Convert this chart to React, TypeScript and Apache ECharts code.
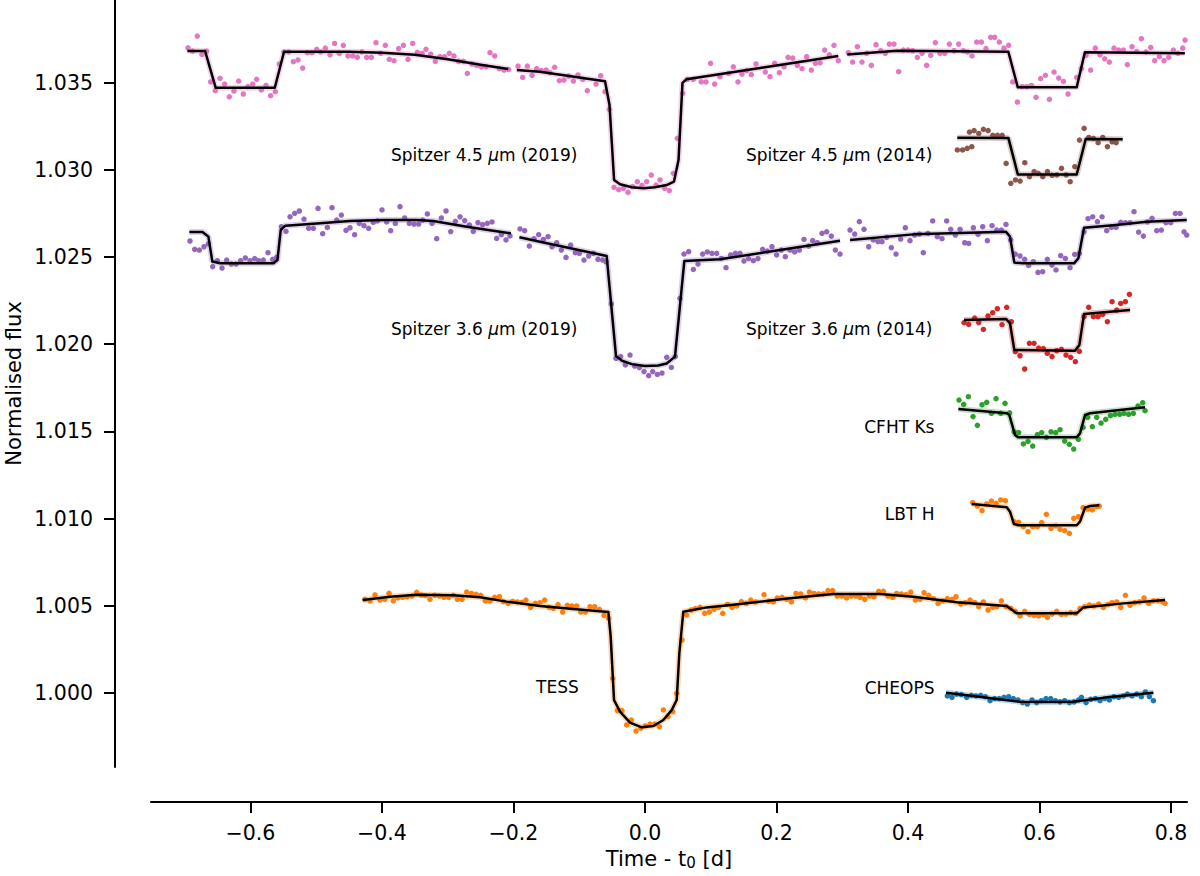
import React, { useEffect, useRef } from "react";
import * as echarts from "echarts";

// ---------- axis extents & ticks ----------
const xMin = -0.7513;
const xMax = 0.8243;
const yMin = 0.995757;
const yMax = 1.03974;
const xTicks = [-0.6, -0.4, -0.2, 0.0, 0.2, 0.4, 0.6, 0.8];
const yTicks = [1.0, 1.005, 1.01, 1.015, 1.02, 1.025, 1.03, 1.035];

// ---------- Spitzer 4.5 um (2019) ----------
const pinkDots = [
  [-0.6951, 1.037], [-0.688, 1.03681], [-0.6809, 1.03767], [-0.6738, 1.03662], [-0.6667, 1.03681], [-0.6606, 1.03504],
  [-0.6535, 1.03454], [-0.6464, 1.03525], [-0.6393, 1.03492], [-0.6322, 1.03419], [-0.6251, 1.03452], [-0.618, 1.03509],
  [-0.6109, 1.03435], [-0.6038, 1.03477], [-0.5967, 1.03492], [-0.5906, 1.03519], [-0.5835, 1.03458], [-0.5764, 1.03484],
  [-0.5693, 1.03425], [-0.5622, 1.03448], [-0.5561, 1.03607], [-0.549, 1.03676], [-0.5419, 1.03676], [-0.5348, 1.0362],
  [-0.5277, 1.0363], [-0.5206, 1.03584], [-0.5135, 1.03672], [-0.5064, 1.03672], [-0.4993, 1.03691], [-0.4933, 1.03676],
  [-0.4862, 1.03698], [-0.4791, 1.0366], [-0.472, 1.03725], [-0.4649, 1.03668], [-0.4588, 1.03714], [-0.4517, 1.03653],
  [-0.4446, 1.03653], [-0.4375, 1.03645], [-0.4304, 1.03677], [-0.4233, 1.03645], [-0.4162, 1.03645], [-0.4091, 1.03729],
  [-0.402, 1.03668], [-0.3949, 1.03714], [-0.3888, 1.03634], [-0.3817, 1.03626], [-0.3746, 1.03695], [-0.3675, 1.03714],
  [-0.3604, 1.03634], [-0.3533, 1.03725], [-0.3462, 1.03674], [-0.3391, 1.03668], [-0.3331, 1.03691], [-0.326, 1.03664],
  [-0.3189, 1.03622], [-0.3118, 1.03649], [-0.3047, 1.03649], [-0.2976, 1.03668], [-0.2905, 1.03653], [-0.2834, 1.03622],
  [-0.2763, 1.03622], [-0.2702, 1.03553], [-0.2631, 1.03607], [-0.256, 1.03599], [-0.2489, 1.03591], [-0.2418, 1.03591],
  [-0.2357, 1.03672], [-0.2286, 1.03653], [-0.2215, 1.0358], [-0.2144, 1.03572], [-0.2073, 1.03576], [-0.1931, 1.03595],
  [-0.186, 1.0353], [-0.1789, 1.03595], [-0.1718, 1.03542], [-0.1647, 1.0358], [-0.1576, 1.03569], [-0.1505, 1.03572],
  [-0.1445, 1.03557], [-0.1374, 1.03588], [-0.1303, 1.03511], [-0.1232, 1.03515], [-0.1161, 1.03538], [-0.109, 1.03509],
  [-0.1019, 1.03544], [-0.0948, 1.03519], [-0.0877, 1.03454], [-0.0745, 1.03492], [-0.0674, 1.0354], [-0.0608, 1.03448],
  [-0.0542, 1.03347], [-0.0471, 1.029], [-0.04, 1.02886], [-0.0329, 1.02894], [-0.0258, 1.02871], [-0.0187, 1.02904],
  [-0.0117, 1.02932], [-0.0046, 1.02911], [0.0025, 1.02932], [0.0096, 1.0297], [0.0167, 1.02913], [0.0228, 1.02942],
  [0.0299, 1.02894], [0.037, 1.02881], [0.0431, 1.0298], [0.0492, 1.03181], [0.0573, 1.03439], [0.0644, 1.03519],
  [0.0735, 1.03519], [0.0856, 1.03504], [0.0927, 1.03504], [0.0998, 1.03611], [0.1059, 1.03492], [0.114, 1.03534],
  [0.1272, 1.03553], [0.1343, 1.03591], [0.1414, 1.03504], [0.1475, 1.03549], [0.1546, 1.03569], [0.1617, 1.03546],
  [0.1688, 1.03607], [0.183, 1.03561], [0.1901, 1.03534], [0.1972, 1.03611], [0.2043, 1.03557], [0.2114, 1.03591],
  [0.2175, 1.03645], [0.2246, 1.03641], [0.2317, 1.03599], [0.2388, 1.0358], [0.2459, 1.03649], [0.253, 1.03572],
  [0.2591, 1.03611], [0.2662, 1.03614], [0.2732, 1.03687], [0.2803, 1.0366], [0.2874, 1.03714], [0.294, 1.03626],
  [0.3092, 1.03672], [0.3158, 1.03618], [0.3229, 1.03706], [0.33, 1.03618], [0.3371, 1.03668], [0.3442, 1.03599],
  [0.3513, 1.03718], [0.3584, 1.03683], [0.3655, 1.03668], [0.3716, 1.03721], [0.3787, 1.03721], [0.3858, 1.03563],
  [0.3929, 1.03687], [0.4, 1.03687], [0.4071, 1.03683], [0.4142, 1.03645], [0.4213, 1.03668], [0.4284, 1.03599],
  [0.4345, 1.03656], [0.4416, 1.03729], [0.4487, 1.03668], [0.4558, 1.03668], [0.4629, 1.03721], [0.47, 1.03683],
  [0.4771, 1.03721], [0.4842, 1.03683], [0.4903, 1.03676], [0.4973, 1.03653], [0.5044, 1.03733], [0.5115, 1.03733],
  [0.5186, 1.03695], [0.5257, 1.0376], [0.5318, 1.0376], [0.5389, 1.03733], [0.546, 1.03698], [0.5531, 1.03714],
  [0.5592, 1.03504], [0.5663, 1.03389], [0.5734, 1.03477], [0.5805, 1.03477], [0.5876, 1.03484], [0.5947, 1.03416],
  [0.6018, 1.03523], [0.6089, 1.03542], [0.615, 1.03404], [0.6221, 1.03561], [0.6292, 1.03526], [0.6363, 1.03507],
  [0.6434, 1.03435], [0.6566, 1.0353], [0.6636, 1.0358], [0.6707, 1.03656], [0.6778, 1.03572], [0.6849, 1.03698],
  [0.692, 1.0366], [0.6991, 1.03637], [0.7062, 1.03618], [0.7133, 1.03698], [0.7204, 1.03687], [0.7275, 1.03687],
  [0.7336, 1.03603], [0.7407, 1.03706], [0.7478, 1.03679], [0.7549, 1.03752], [0.762, 1.03676], [0.7691, 1.03702],
  [0.7752, 1.03626], [0.7823, 1.03649], [0.7894, 1.03626], [0.7965, 1.03645], [0.8036, 1.03687], [0.8107, 1.03668],
  [0.8178, 1.03698], [0.8213, 1.03744],
];
const pinkModelA = [
  [-0.696, 1.03681], [-0.669, 1.03681], [-0.653, 1.03471], [-0.563, 1.03471], [-0.549, 1.03677], [-0.45, 1.03677],
  [-0.4, 1.03672], [-0.35, 1.0366], [-0.3, 1.03634], [-0.25, 1.03603], [-0.208, 1.03578],
];
const pinkModelB = [
  [-0.195, 1.03572], [-0.16, 1.03562], [-0.0608, 1.03508], [-0.054, 1.03372], [-0.047, 1.02942], [-0.038, 1.02917],
  [-0.02, 1.029], [-0.0025, 1.02894], [0.015, 1.029], [0.033, 1.02913], [0.044, 1.02932], [0.051, 1.03056],
  [0.057, 1.03499], [0.063, 1.03519], [0.18, 1.03587], [0.294, 1.03653],
];
const pinkModelC = [
  [0.3077, 1.03662], [0.383, 1.03683], [0.5526, 1.03677], [0.567, 1.03473], [0.6565, 1.03473], [0.669, 1.03674],
  [0.821, 1.03668],
];

// ---------- Spitzer 4.5 um (2014) ----------
const brownDots = [
  [0.475, 1.03114], [0.483, 1.03114], [0.49, 1.03123], [0.497, 1.03133], [0.4934, 1.03217], [0.5005, 1.03225],
  [0.5076, 1.03209], [0.5147, 1.03232], [0.5218, 1.03225], [0.5289, 1.03198], [0.536, 1.03198], [0.5431, 1.03198],
  [0.5492, 1.03037], [0.5563, 1.02923], [0.5634, 1.02942], [0.5705, 1.02936], [0.5776, 1.03041], [0.5847, 1.02961],
  [0.5918, 1.0299], [0.5979, 1.0298], [0.605, 1.02961], [0.6121, 1.0299], [0.6192, 1.02969], [0.6263, 1.02971],
  [0.6334, 1.03009], [0.6405, 1.02971], [0.6466, 1.02932], [0.6537, 1.03018], [0.6608, 1.03171], [0.6679, 1.03238],
  [0.6749, 1.03186], [0.682, 1.03181], [0.6891, 1.03156], [0.6962, 1.03186], [0.7033, 1.03133], [0.7104, 1.03161],
  [0.7165, 1.03156],
];
const brownModel = [
  [0.475, 1.03184], [0.5526, 1.03183], [0.567, 1.02974], [0.6566, 1.02974], [0.6703, 1.03177], [0.7265, 1.03175],
];

// ---------- Spitzer 3.6 um (2019) ----------
const purpleDots = [
  [-0.692, 1.02592], [-0.6849, 1.02544], [-0.6778, 1.0254], [-0.6707, 1.02559], [-0.6641, 1.02575], [-0.6575, 1.02445],
  [-0.6504, 1.02479], [-0.6433, 1.02437], [-0.6362, 1.02483], [-0.6291, 1.0246], [-0.622, 1.0246], [-0.6149, 1.02479],
  [-0.6078, 1.02495], [-0.6007, 1.02479], [-0.5936, 1.02491], [-0.5876, 1.02479], [-0.5805, 1.02483], [-0.5734, 1.02525],
  [-0.5663, 1.02487], [-0.5602, 1.02498], [-0.5531, 1.02674], [-0.546, 1.02647], [-0.5399, 1.02731], [-0.5328, 1.02751],
  [-0.5257, 1.02764], [-0.5186, 1.02718], [-0.5115, 1.02665], [-0.5044, 1.02665], [-0.4973, 1.02779], [-0.4902, 1.02634],
  [-0.4831, 1.0267], [-0.476, 1.02783], [-0.4689, 1.02712], [-0.4618, 1.02741], [-0.4547, 1.02653], [-0.4487, 1.02668],
  [-0.4416, 1.02628], [-0.4345, 1.02693], [-0.4274, 1.0268], [-0.4203, 1.02665], [-0.4132, 1.02699], [-0.4071, 1.02707],
  [-0.4, 1.0277], [-0.3929, 1.02701], [-0.3868, 1.02651], [-0.3797, 1.02693], [-0.3726, 1.02789], [-0.3655, 1.02724],
  [-0.3584, 1.02693], [-0.3513, 1.02689], [-0.3442, 1.02689], [-0.3381, 1.02712], [-0.331, 1.02747], [-0.3239, 1.02693],
  [-0.3168, 1.02605], [-0.3097, 1.02724], [-0.3026, 1.02764], [-0.2955, 1.02646], [-0.2884, 1.02705], [-0.2813, 1.02731],
  [-0.2742, 1.02709], [-0.2671, 1.02684], [-0.2611, 1.02647], [-0.254, 1.02697], [-0.2469, 1.02686], [-0.2398, 1.02693],
  [-0.2327, 1.02701], [-0.2256, 1.02607], [-0.2185, 1.02628], [-0.2114, 1.02598], [-0.2053, 1.02621], [-0.1901, 1.02661],
  [-0.183, 1.02651], [-0.1759, 1.02563], [-0.1688, 1.02605], [-0.1617, 1.02628], [-0.1546, 1.02601], [-0.1475, 1.02617],
  [-0.1414, 1.02559], [-0.1343, 1.02582], [-0.1272, 1.0254], [-0.1201, 1.02498], [-0.1131, 1.02569], [-0.106, 1.02525],
  [-0.0999, 1.02521], [-0.0928, 1.02483], [-0.0857, 1.02506], [-0.0786, 1.02521], [-0.0715, 1.02487], [-0.0644, 1.02483],
  [-0.0593, 1.02473], [-0.0512, 1.02231], [-0.0441, 1.01919], [-0.037, 1.01929], [-0.0299, 1.01881], [-0.0228, 1.01938],
  [-0.0157, 1.01875], [-0.0086, 1.01866], [-0.0015, 1.01843], [0.0056, 1.0182], [0.0117, 1.01843], [0.0188, 1.01827],
  [0.0259, 1.01835], [0.033, 1.01925], [0.0401, 1.01867], [0.0461, 1.01929], [0.0532, 1.02263], [0.0593, 1.02517],
  [0.0664, 1.02531], [0.0735, 1.02429], [0.0806, 1.0246], [0.0877, 1.02517], [0.0948, 1.02529], [0.1019, 1.02521],
  [0.109, 1.02521], [0.1161, 1.02492], [0.1232, 1.02439], [0.1303, 1.02512], [0.1374, 1.02521], [0.1445, 1.02521],
  [0.1505, 1.02477], [0.1576, 1.02491], [0.1647, 1.02479], [0.1718, 1.02491], [0.1789, 1.02544], [0.186, 1.02534],
  [0.1931, 1.02559], [0.2002, 1.02512], [0.2073, 1.0254], [0.2134, 1.02502], [0.2205, 1.0254], [0.2276, 1.02529],
  [0.2347, 1.0254], [0.2418, 1.02601], [0.2489, 1.02563], [0.255, 1.02594], [0.2621, 1.02582], [0.2692, 1.02636],
  [0.2763, 1.02645], [0.2834, 1.0262], [0.2895, 1.0254], [0.2966, 1.02517], [0.3118, 1.02655], [0.3189, 1.02632],
  [0.326, 1.02703], [0.3331, 1.02659], [0.3402, 1.02559], [0.3473, 1.02598], [0.3544, 1.02588], [0.3604, 1.02588],
  [0.3675, 1.02613], [0.3746, 1.02554], [0.3817, 1.02517], [0.3888, 1.02603], [0.3959, 1.02668], [0.403, 1.02594],
  [0.4101, 1.02626], [0.4172, 1.02632], [0.4233, 1.02525], [0.4304, 1.02636], [0.4375, 1.02707], [0.4446, 1.02617],
  [0.4517, 1.02605], [0.4588, 1.02707], [0.4649, 1.02659], [0.472, 1.02626], [0.4791, 1.02659], [0.4862, 1.02582],
  [0.4923, 1.02578], [0.4994, 1.02668], [0.5065, 1.0263], [0.5136, 1.02674], [0.5207, 1.02594], [0.5278, 1.0268],
  [0.5349, 1.02655], [0.5419, 1.02655], [0.549, 1.02687], [0.5561, 1.02598], [0.5632, 1.02517], [0.5703, 1.02506],
  [0.5774, 1.02487], [0.5835, 1.02452], [0.5906, 1.02473], [0.5977, 1.02412], [0.6048, 1.02416], [0.6119, 1.02487],
  [0.619, 1.02454], [0.6251, 1.02426], [0.6322, 1.02508], [0.6393, 1.02492], [0.6464, 1.02439], [0.6535, 1.02515],
  [0.6606, 1.02521], [0.6677, 1.02645], [0.6738, 1.0272], [0.6809, 1.02731], [0.688, 1.02703], [0.6951, 1.02731],
  [0.7022, 1.02651], [0.7093, 1.0267], [0.7164, 1.0267], [0.7235, 1.02699], [0.7306, 1.02697], [0.7377, 1.02697],
  [0.7437, 1.0276], [0.7508, 1.02643], [0.7579, 1.0262], [0.764, 1.02701], [0.7711, 1.02722], [0.7782, 1.02651],
  [0.7853, 1.02655], [0.7924, 1.02697], [0.7995, 1.02697], [0.8066, 1.0275], [0.8137, 1.0275], [0.8198, 1.02645],
  [0.8239, 1.02626],
];
const purpleModelA = [
  [-0.693, 1.02644], [-0.673, 1.02644], [-0.664, 1.02617], [-0.658, 1.02474], [-0.646, 1.02464], [-0.565, 1.02464],
  [-0.559, 1.02483], [-0.554, 1.02655], [-0.547, 1.0268], [-0.499, 1.02693], [-0.449, 1.02707], [-0.398, 1.02712],
  [-0.347, 1.02712], [-0.322, 1.02707], [-0.271, 1.02674], [-0.246, 1.02659], [-0.204, 1.02636],
];
const purpleModelB = [
  [-0.191, 1.02613], [-0.1597, 1.02588], [-0.0583, 1.02506], [-0.0441, 1.01932], [-0.035, 1.01905], [-0.02, 1.01886],
  [0.0, 1.01875], [0.02, 1.01878], [0.033, 1.0189], [0.0456, 1.01929], [0.0598, 1.02477], [0.1141, 1.02487],
  [0.2053, 1.0254], [0.2966, 1.02594],
];
const purpleModelC = [
  [0.3118, 1.02598], [0.4081, 1.0263], [0.549, 1.02645], [0.5551, 1.02617], [0.5617, 1.02468], [0.5754, 1.02464],
  [0.6525, 1.02464], [0.6591, 1.02493], [0.6677, 1.02668], [0.7123, 1.02683], [0.763, 1.02703], [0.8239, 1.02712],
];

// ---------- Spitzer 3.6 um (2014) ----------
const redDots = [
  [0.4852, 1.02124], [0.4923, 1.02114], [0.5014, 1.0215], [0.5075, 1.02124], [0.5146, 1.02085], [0.5217, 1.02162],
  [0.5288, 1.02181], [0.5359, 1.02204], [0.543, 1.02112], [0.5501, 1.02212], [0.5572, 1.02129], [0.5632, 1.01957],
  [0.5703, 1.01934], [0.5774, 1.01858], [0.5845, 1.02005], [0.5916, 1.02005], [0.5987, 1.01978], [0.6058, 1.01975],
  [0.6119, 1.01948], [0.619, 1.01929], [0.6261, 1.01963], [0.6332, 1.01971], [0.6403, 1.01938], [0.6474, 1.01925],
  [0.6545, 1.019], [0.6606, 1.01959], [0.6677, 1.02158], [0.6748, 1.02212], [0.6819, 1.02158], [0.689, 1.02158],
  [0.6961, 1.02171], [0.7032, 1.02129], [0.7103, 1.02244], [0.7174, 1.02196], [0.7235, 1.02234], [0.7306, 1.02244],
  [0.7367, 1.02286],
];
const redModel = [
  [0.4852, 1.02139], [0.549, 1.02145], [0.5551, 1.0212], [0.5617, 1.01967], [0.654, 1.01963], [0.6606, 1.01996],
  [0.6677, 1.02173], [0.7377, 1.02196],
];

// ---------- CFHT Ks ----------
const greenDots = [
  [0.4776, 1.0168], [0.4847, 1.01655], [0.4918, 1.01699], [0.4989, 1.01585], [0.5055, 1.01535], [0.5126, 1.01653],
  [0.5197, 1.01667], [0.5268, 1.01604], [0.5339, 1.01688], [0.541, 1.01604], [0.5475, 1.01661], [0.5546, 1.01607],
  [0.5617, 1.01497], [0.5683, 1.01493], [0.5754, 1.01428], [0.5825, 1.01443], [0.5896, 1.01416], [0.5967, 1.01481],
  [0.6033, 1.01493], [0.6104, 1.01466], [0.6175, 1.01498], [0.6246, 1.01493], [0.6312, 1.0151], [0.6383, 1.01445],
  [0.6454, 1.01426], [0.652, 1.01399], [0.6591, 1.01455], [0.6662, 1.01523], [0.6733, 1.01581], [0.6804, 1.01527],
  [0.687, 1.01581], [0.6936, 1.01548], [0.7007, 1.01569], [0.7078, 1.0159], [0.7149, 1.01598], [0.722, 1.01598],
  [0.7285, 1.01604], [0.7356, 1.01598], [0.7427, 1.01604], [0.7498, 1.01646], [0.7569, 1.01665], [0.7605, 1.01619],
];
const greenModel = [
  [0.4766, 1.01628], [0.5501, 1.01604], [0.5541, 1.01594], [0.5628, 1.01479], [0.5678, 1.01466], [0.6565, 1.01466],
  [0.6616, 1.01489], [0.6692, 1.01594], [0.6768, 1.01604], [0.7605, 1.01638],
];

// ---------- LBT H ----------
const lbtDots = [
  [0.4984, 1.01092], [0.5055, 1.01072], [0.5126, 1.01046], [0.5197, 1.01084], [0.5268, 1.01101], [0.5339, 1.01088],
  [0.541, 1.01107], [0.5481, 1.01103], [0.5617, 1.00981], [0.5683, 1.00979], [0.5754, 1.00954], [0.5825, 1.00925],
  [0.5896, 1.00954], [0.5967, 1.00954], [0.6033, 1.00977], [0.6104, 1.01025], [0.6175, 1.00944], [0.6246, 1.00958],
  [0.6312, 1.00939], [0.6383, 1.00931], [0.6454, 1.00916], [0.652, 1.01002], [0.6591, 1.01011], [0.6662, 1.01063],
  [0.6733, 1.01055], [0.6804, 1.0105], [0.687, 1.01069], [0.691, 1.01072],
];
const lbtModel = [
  [0.4968, 1.01084], [0.5501, 1.01065], [0.5551, 1.0104], [0.5612, 1.00969], [0.5678, 1.00962], [0.6565, 1.00962],
  [0.6616, 1.00983], [0.6692, 1.01063], [0.6768, 1.01072], [0.691, 1.01076],
];

// ---------- TESS ----------
const tessDots = [
  [-0.4259, 1.00537], [-0.4183, 1.00528], [-0.4106, 1.00562], [-0.403, 1.00533], [-0.3959, 1.00537], [-0.3894, 1.00572],
  [-0.3828, 1.00529], [-0.3757, 1.00545], [-0.3686, 1.00549], [-0.3615, 1.00552], [-0.3544, 1.00556], [-0.3473, 1.00577],
  [-0.3402, 1.00562], [-0.3341, 1.00558], [-0.327, 1.00537], [-0.3199, 1.0056], [-0.3128, 1.00556], [-0.3057, 1.00549],
  [-0.2986, 1.00549], [-0.2915, 1.0056], [-0.2854, 1.00537], [-0.2783, 1.00537], [-0.2712, 1.00579], [-0.2641, 1.00571],
  [-0.257, 1.00566], [-0.2499, 1.0056], [-0.2428, 1.00528], [-0.2357, 1.00528], [-0.2286, 1.00549], [-0.2215, 1.00552],
  [-0.2154, 1.00524], [-0.2083, 1.00514], [-0.2013, 1.00526], [-0.1942, 1.00522], [-0.1871, 1.0052], [-0.181, 1.00533],
  [-0.1739, 1.00491], [-0.1668, 1.00514], [-0.1597, 1.00518], [-0.1526, 1.00533], [-0.1455, 1.00491], [-0.1394, 1.00486],
  [-0.1323, 1.00507], [-0.1252, 1.00464], [-0.1181, 1.00503], [-0.111, 1.00499], [-0.1039, 1.00499], [-0.0978, 1.00464],
  [-0.0907, 1.00464], [-0.0836, 1.00495], [-0.0765, 1.00495], [-0.0694, 1.0048], [-0.0623, 1.00445], [-0.0552, 1.00428],
  [-0.0491, 1.00084], [-0.0421, 0.99899], [-0.035, 0.99899], [-0.0279, 0.99817], [-0.0208, 0.99845], [-0.0137, 0.99782],
  [-0.0066, 0.99798], [0.0005, 0.99811], [0.0076, 0.99822], [0.0147, 0.99822], [0.0218, 0.99807], [0.0279, 0.99903],
  [0.035, 0.99864], [0.0421, 0.99893], [0.0482, 0.99998], [0.0563, 1.00304], [0.0634, 1.00447], [0.0705, 1.00476],
  [0.0766, 1.00484], [0.0837, 1.00491], [0.0908, 1.00457], [0.0979, 1.00464], [0.105, 1.0048], [0.1121, 1.00491],
  [0.1182, 1.00457], [0.1253, 1.00508], [0.1324, 1.00491], [0.1395, 1.00499], [0.1466, 1.00524], [0.1537, 1.00514],
  [0.1608, 1.00533], [0.1679, 1.00522], [0.181, 1.00564], [0.1881, 1.00526], [0.1952, 1.00522], [0.2013, 1.00545],
  [0.2084, 1.00549], [0.2155, 1.00537], [0.2226, 1.00522], [0.2297, 1.00571], [0.2368, 1.00568], [0.2439, 1.00545],
  [0.25, 1.00579], [0.257, 1.00571], [0.2641, 1.00568], [0.2712, 1.00568], [0.2783, 1.00587], [0.2854, 1.00587],
  [0.2925, 1.00556], [0.2996, 1.00556], [0.3067, 1.00545], [0.3138, 1.00556], [0.3209, 1.00556], [0.327, 1.00549],
  [0.3341, 1.00537], [0.3412, 1.00556], [0.3483, 1.00552], [0.3554, 1.00583], [0.3625, 1.00583], [0.3696, 1.00556],
  [0.3767, 1.00549], [0.3828, 1.00571], [0.3899, 1.00568], [0.397, 1.00564], [0.4041, 1.00579], [0.4112, 1.00533],
  [0.4183, 1.00537], [0.4244, 1.00575], [0.4315, 1.0056], [0.4386, 1.00541], [0.4457, 1.00514], [0.4527, 1.00529],
  [0.4598, 1.00541], [0.4669, 1.00537], [0.473, 1.00552], [0.4801, 1.0051], [0.4872, 1.00518], [0.4943, 1.00533],
  [0.5014, 1.00518], [0.5075, 1.00495], [0.5146, 1.00522], [0.5217, 1.00476], [0.5288, 1.00491], [0.5349, 1.00495],
  [0.542, 1.00529], [0.5491, 1.00495], [0.5562, 1.00485], [0.5633, 1.00468], [0.5704, 1.00442], [0.5775, 1.00468],
  [0.5846, 1.00451], [0.5917, 1.00445], [0.5988, 1.00442], [0.6059, 1.00449], [0.6119, 1.00434], [0.619, 1.00453],
  [0.6261, 1.00468], [0.6332, 1.00451], [0.6403, 1.00453], [0.6474, 1.00461], [0.6545, 1.00457], [0.6616, 1.00485],
  [0.6687, 1.00495], [0.6758, 1.00505], [0.6829, 1.00499], [0.69, 1.0051], [0.6971, 1.00491], [0.7042, 1.00508],
  [0.7103, 1.00518], [0.7174, 1.00522], [0.7235, 1.00491], [0.7306, 1.0056], [0.7377, 1.00503], [0.7448, 1.00518],
  [0.7519, 1.00522], [0.759, 1.00545], [0.7661, 1.00514], [0.7732, 1.00529], [0.7803, 1.00529], [0.7874, 1.00522],
  [0.7909, 1.00514],
];
const tessModel = [
  [-0.4294, 1.00533], [-0.3878, 1.00552], [-0.3473, 1.00564], [-0.2915, 1.0056], [-0.2509, 1.00549], [-0.2104, 1.00524],
  [-0.1597, 1.00499], [-0.109, 1.00482], [-0.0557, 1.00464], [-0.0522, 1.00323], [-0.0471, 0.9996], [-0.038, 0.99893],
  [-0.0228, 0.9983], [-0.005, 0.99803], [0.0127, 0.99811], [0.0279, 0.99845], [0.0406, 0.99902], [0.0482, 0.9996],
  [0.0522, 1.00228], [0.0583, 1.00466], [0.0938, 1.00491], [0.1445, 1.00511], [0.2205, 1.00543], [0.2864, 1.00568],
  [0.3574, 1.00568], [0.4081, 1.00552], [0.4741, 1.0052], [0.5501, 1.00499], [0.5653, 1.00457], [0.6566, 1.00457],
  [0.6667, 1.00491], [0.7276, 1.00514], [0.7909, 1.00533],
];

// ---------- CHEOPS ----------
const cheopsDots = [
  [0.4598, 0.99983], [0.4669, 0.99975], [0.474, 0.99994], [0.4811, 0.99991], [0.4893, 0.99975], [0.4963, 0.99987],
  [0.5034, 0.99983], [0.5105, 0.99987], [0.5176, 0.99979], [0.5247, 0.99956], [0.5318, 0.99968], [0.5389, 0.99968],
  [0.546, 0.99975], [0.5531, 0.99979], [0.5602, 0.99968], [0.5673, 0.9996], [0.5744, 0.99945], [0.5815, 0.99937],
  [0.5886, 0.9996], [0.5957, 0.99945], [0.6028, 0.99956], [0.6099, 0.99968], [0.617, 0.99968], [0.6241, 0.99956],
  [0.6312, 0.99949], [0.6383, 0.99956], [0.6454, 0.99945], [0.6525, 0.99949], [0.6596, 0.9996], [0.6637, 0.99975],
  [0.6708, 0.99945], [0.6778, 0.99964], [0.6849, 0.99968], [0.692, 0.99956], [0.6991, 0.99968], [0.7062, 0.9996],
  [0.7133, 0.99979], [0.7204, 0.99975], [0.7275, 0.99983], [0.7336, 0.99994], [0.7407, 0.99983], [0.7478, 0.99994],
  [0.7549, 0.99979], [0.761, 1.00006], [0.7671, 0.99979], [0.7732, 0.99956],
];
const cheopsModel = [
  [0.4578, 1.00002], [0.4994, 0.99983], [0.535, 0.99965], [0.5704, 0.9995], [0.61, 0.99948], [0.6515, 0.9995],
  [0.7022, 0.99975], [0.7732, 1.00002],
];

// ---------- annotations ----------
const labelTexts = [
  "Spitzer 4.5 μm (2019)", "Spitzer 4.5 μm (2014)", "Spitzer 3.6 μm (2019)", "Spitzer 3.6 μm (2014)",
  "CFHT Ks", "LBT H", "TESS", "CHEOPS",
];
const labelX = [-0.1019, 0.438, -0.1019, 0.438, 0.441, 0.441, -0.0999, 0.441];
const labelY = [1.03085, 1.03085, 1.02087, 1.02087, 1.01525, 1.01026, 1.00034, 1.00029];

const FONT = "DejaVu Sans";

function dots(data: number[][], color: string) {
  return {
    type: "scatter", data, symbolSize: 5.5, z: 2, silent: true,
    itemStyle: { color, opacity: 1 },
  };
}
function band(data: number[][], color: string) {
  return {
    type: "line", data, symbol: "none", z: 3, silent: true,
    lineStyle: { color, width: 6, opacity: 0.3 },
  };
}
function model(data: number[][]) {
  return {
    type: "line", data, symbol: "none", z: 4, silent: true,
    lineStyle: { color: "#000", width: 2.5, join: "round" },
  };
}

export default function App() {
  const ref = useRef<HTMLDivElement>(null);
  useEffect(() => {
    if (!ref.current) return;
    const chart = echarts.init(ref.current, null, { renderer: "svg" });
    const groups: [number[][], number[][][], string][] = [
      [pinkDots, [pinkModelA, pinkModelB, pinkModelC], "#e377c2"],
      [brownDots, [brownModel], "#8c564b"],
      [purpleDots, [purpleModelA, purpleModelB, purpleModelC], "#9467bd"],
      [redDots, [redModel], "#d62728"],
      [greenDots, [greenModel], "#2ca02c"],
      [lbtDots, [lbtModel], "#ff7f0e"],
      [tessDots, [tessModel], "#ff7f0e"],
      [cheopsDots, [cheopsModel], "#1f77b4"],
    ];
    const series: any[] = [];
    groups.forEach(([d, models, c]) => {
      series.push(dots(d, c));
      models.forEach((m) => series.push(band(m, c)));
      models.forEach((m) => series.push(model(m)));
    });
    series.push({
      type: "scatter",
      z: 6,
      silent: true,
      symbolSize: 1,
      itemStyle: { color: "rgba(0,0,0,0)" },
      data: labelX.map((x, i) => [x, labelY[i]]),
      label: {
        show: true,
        position: "left",
        distance: 0,
        color: "#000",
        opacity: 1,
        fontSize: 17,
        fontFamily: FONT,
        formatter: (p: any) => labelTexts[p.dataIndex].replace("μ", "{it|μ}"),
        rich: {
          it: { fontStyle: "italic", fontSize: 17, fontFamily: FONT, color: "#000" },
        },
      },
    });

    const fmtX = (v: number) => {
      const s = Math.abs(v).toFixed(1);
      return v < -1e-9 ? "\u2212" + s : s;
    };

    chart.setOption({
      animation: false,
      backgroundColor: "#fff",
      grid: { left: 151, right: 13, top: 0, bottom: 109, containLabel: false, outerBoundsMode: "none" },
      xAxis: {
        type: "value",
        min: xMin,
        max: xMax,
        offset: 35,
        axisLine: { show: true, onZero: false, lineStyle: { color: "#000", width: 2 } },
        axisTick: { show: true, customValues: xTicks, length: 11, lineStyle: { color: "#000", width: 2 } },
        axisLabel: { customValues: xTicks, formatter: fmtX, fontSize: 20.5, color: "#000", fontFamily: FONT, margin: 20 },
        splitLine: { show: false },
        name: "Time - t{sub|0} [d]",
        nameLocation: "middle",
        nameGap: 45,
        nameMoveOverlap: false,
        nameTextStyle: {
          fontSize: 21, color: "#000", fontFamily: FONT,
          rich: { sub: { fontSize: 15, color: "#000", fontFamily: FONT, verticalAlign: "bottom", padding: [8, 0, 0, 0] } },
        },
      },
      yAxis: {
        type: "value",
        min: yMin,
        max: yMax,
        offset: 36,
        axisLine: { show: true, onZero: false, lineStyle: { color: "#000", width: 2 } },
        axisTick: { show: true, customValues: yTicks, length: 11, lineStyle: { color: "#000", width: 2 } },
        axisLabel: { customValues: yTicks, formatter: (v: number) => v.toFixed(3), fontSize: 20.5, color: "#000", fontFamily: FONT, margin: 22 },
        splitLine: { show: false },
        name: "Normalised flux",
        nameLocation: "middle",
        nameRotate: 90,
        nameGap: 91,
        nameMoveOverlap: false,
        nameTextStyle: { fontSize: 21, color: "#000", fontFamily: FONT },
      },
      series,
    });
    return () => chart.dispose();
  }, []);
  return (
    <div
      ref={ref}
      style={{ position: "absolute", left: 0, top: 0, width: 1200, height: 876, background: "#fff" }}
    />
  );
}
